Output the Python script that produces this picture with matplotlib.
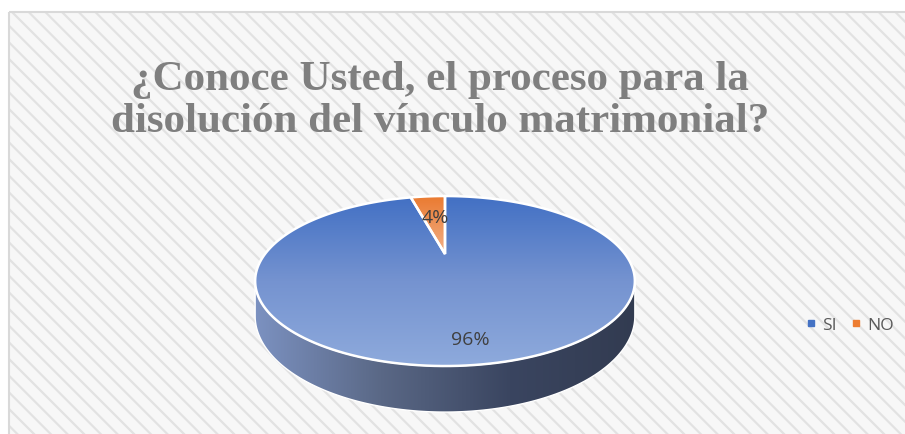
import numpy as np
import matplotlib.pyplot as plt
from matplotlib.patches import Polygon, Rectangle
from matplotlib.lines import Line2D
from matplotlib.colors import LinearSegmentedColormap

# data
categories = ["SI", "NO"]
values = [96, 4]
colors = ["#4472C4", "#ED7D31"]
title = "¿Conoce Usted, el proceso para la\ndisolución del vínculo matrimonial?"

# 3D pie geometry (pixels), simple perspective
cx, cy = 445, 255
R, S, k = 180, 76.4, 0.318
depth = 31.4


def project(u, v, drop=0.0):
    d = 1 - k * v
    return cx + R * u / d, cy + (S * v + drop) / d


def arc(t0, t1, n=200, drop=0.0, r=1.0):
    t = np.linspace(t0, t1, n)
    u = r * np.sin(t)
    v = -r * np.cos(t)
    x, y = project(u, v, drop)
    return np.column_stack([x, y])


def gradient_fill(ax, patch, cmap, extent, horizontal=False):
    ax.add_patch(patch)
    patch.set_facecolor("none")
    g = np.linspace(0, 1, 256)
    img = g[np.newaxis, :] if horizontal else g[:, np.newaxis]
    im = ax.imshow(img, cmap=cmap, extent=extent, origin="upper",
                   aspect="auto", zorder=patch.get_zorder() - 0.1)
    im.set_clip_path(patch)


fig = plt.figure(figsize=(9.05, 4.35), dpi=100)
ax = fig.add_axes([0, 0, 1, 1])
ax.set_axis_off()

# chart background with diagonal pattern
plt.rcParams["hatch.linewidth"] = 1.6
bg = Rectangle((8.5, 12.5), 905, 430, facecolor="#f7f7f7",
               edgecolor="#e2e2e2", hatch="\\\\", linewidth=0, zorder=0)
ax.add_patch(bg)
ax.add_patch(Rectangle((8.5, 12.5), 905, 430, facecolor="none",
                       edgecolor="#d9d9d9", linewidth=1.5, zorder=0.5))

# slice angles (clockwise from 12 o'clock)
fracs = np.array(values) / sum(values)
bounds = np.concatenate([[0], np.cumsum(fracs)]) * 2 * np.pi

# side band of the front part
t_right = np.arccos(-k)
t_left = 2 * np.pi - t_right
top_edge = arc(t_right, t_left)
bot_edge = arc(t_left, t_right, drop=depth)
band = Polygon(np.vstack([top_edge, bot_edge]), closed=True,
               edgecolor="white", linewidth=1.0, zorder=2)
side_cmap = LinearSegmentedColormap.from_list(
    "side", ["#7d93c3", "#5a6886", "#3a4560", "#323b50"])
gradient_fill(ax, band, side_cmap, (250, 640, 420, 270), horizontal=True)

# top faces
face_cmaps = [
    LinearSegmentedColormap.from_list("si", ["#4270c4", "#7593d0", "#8eaadc"]),
    LinearSegmentedColormap.from_list("no", ["#ea7a30", "#f2b088"]),
]
for i, cat in enumerate(categories):
    pts = arc(bounds[i], bounds[i + 1])
    center = np.array(project(0, 0))
    poly = Polygon(np.vstack([center, pts]), closed=True,
                   edgecolor="white", linewidth=1.8, zorder=3)
    top_y = pts[:, 1].min()
    bot_y = max(pts[:, 1].max(), center[1])
    gradient_fill(ax, poly, face_cmaps[i], (250, 640, bot_y, top_y))

    mid = (bounds[i] + bounds[i + 1]) / 2
    lx, ly = project(0.83 * np.sin(mid), -0.83 * np.cos(mid))
    if cat == "NO":
        lx += 5
        ly += 13
    ax.text(lx, ly, f"{values[i]}%", ha="center", va="center",
            fontsize=14, color="#404040", family="Open Sans", zorder=5)

# title
ax.text(440, 101, title, ha="center", va="center", fontsize=31,
        fontweight="bold", family="Liberation Serif", color="#7f7f7f",
        linespacing=1.13, zorder=5)

# legend
handles = [Line2D([], [], marker="s", linestyle="", markersize=4,
                  color=colors[i], label=c) for i, c in enumerate(categories)]
fig.legend(handles=handles, loc="center left", ncol=2,
           bbox_to_anchor=(790 / 905, 1 - 326 / 435), frameon=False,
           handlelength=0.6, handletextpad=0.35, columnspacing=0.8,
           prop={"family": "Open Sans", "size": 12.5}, labelcolor="#595959")

ax.set_xlim(0, 905)
ax.set_ylim(435, 0)
fig.savefig("out.png", dpi=100)
